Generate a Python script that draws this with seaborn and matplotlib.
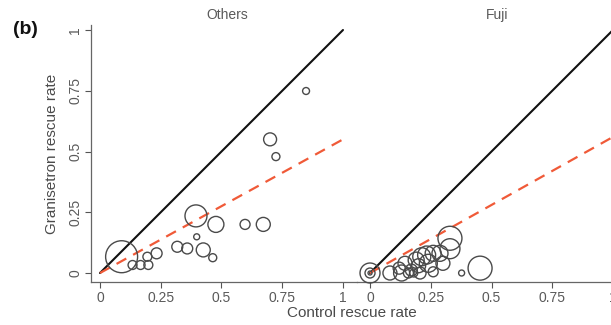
import numpy as np
import pandas as pd
import matplotlib
matplotlib.use("Agg")
import matplotlib.pyplot as plt
import matplotlib.transforms as mtransforms
import seaborn as sns

# Rescue rates per centre: control arm (x) vs granisetron arm (y), circle area ~ weight
others_control = [0.089, 0.134, 0.167, 0.199, 0.195, 0.233, 0.318, 0.359, 0.398,
                  0.425, 0.464, 0.395, 0.477, 0.597, 0.672, 0.848, 0.700, 0.724]
others_granisetron = [0.067, 0.033, 0.033, 0.033, 0.067, 0.081, 0.108, 0.101, 0.149,
                      0.095, 0.063, 0.235, 0.200, 0.200, 0.200, 0.749, 0.550, 0.479]
others_weight = [256, 20, 20, 20, 20, 30, 30, 30, 9,
                 49, 16, 121, 64, 25, 49, 12, 42, 16]

fuji_control = [0.0, 0.0, 0.0, 0.082, 0.130, 0.144, 0.158, 0.170, 0.180, 0.190,
                0.206, 0.213, 0.233, 0.260, 0.260, 0.288, 0.329, 0.329, 0.377,
                0.453, 0.200, 0.240, 0.120, 0.300]
fuji_granisetron = [0.0, 0.0, 0.0, 0.0, 0.0, 0.040, 0.0, 0.012, 0.0, 0.053,
                    0.0, 0.067, 0.074, 0.081, 0.005, 0.081, 0.143, 0.100, 0.0,
                    0.020, 0.030, 0.040, 0.020, 0.040]
fuji_weight = [100, 25, 4, 49, 64, 49, 25, 36, 16, 64,
               36, 81, 81, 64, 25, 64, 144, 100, 9,
               144, 49, 81, 36, 49]

panels = ["Others", "Fuji"]
fitted_slope = {"Others": 0.55, "Fuji": 0.56}
tick_values = [0, 0.25, 0.5, 0.75, 1]
tick_labels = ["0", "0.25", "0.5", "0.75", "1"]

df = pd.concat([
    pd.DataFrame({"panel": "Others", "control": others_control,
                  "granisetron": others_granisetron, "weight": others_weight}),
    pd.DataFrame({"panel": "Fuji", "control": fuji_control,
                  "granisetron": fuji_granisetron, "weight": fuji_weight}),
], ignore_index=True)

sns.set_theme(style="white")
plt.rcParams["font.family"] = ["Liberation Sans", "DejaVu Sans"]

W, H = 611, 325
fig = plt.figure(figsize=(W / 100, H / 100), dpi=100)

label_grey = "#4a4a4a"
tick_grey = "#5a5a5a"

# axes rectangles (pixels): left panel 91..356.5, right panel 356.5..626.5, y 25..282
bottom = (H - 282) / H
height = (282 - 25) / H
ax_left = fig.add_axes([91 / W, bottom, 265.5 / W, height])
ax_right = fig.add_axes([356.5 / W, bottom, 270 / W, height])
ax_right.patch.set_alpha(0)

limits = {"Others": (-0.037, 1.0556), "Fuji": (-0.0556, 1.0556)}
wmax = max(others_weight + fuji_weight)
k = 2.07  # marker area (pt^2) per weight unit

for ax, name in zip([ax_left, ax_right], panels):
    sub = df[df["panel"] == name]
    sns.scatterplot(data=sub, x="control", y="granisetron", size="weight",
                    sizes=(0, k * wmax), size_norm=(0, wmax), legend=False,
                    facecolors="none", edgecolor="#4a4a4a", linewidth=1.0,
                    clip_on=False, zorder=3, ax=ax)
    ref = np.array([0.0, 1.0])
    ax.plot(ref, ref, color="#111111", lw=1.5, zorder=2)
    ax.plot(ref, fitted_slope[name] * ref, color="#f05a38", lw=1.6,
            dashes=(5, 3.5), zorder=2)

    ax.set_xlim(*limits[name])
    ax.set_ylim(-0.037, 1.0206)
    ax.set_xticks(tick_values)
    ax.set_xticklabels(tick_labels)
    ax.set_xlabel("")
    ax.set_ylabel("")
    ax.tick_params(axis="x", bottom=True, length=4.3, width=0.8, color="#555555",
                   pad=2, labelsize=10, labelcolor=tick_grey)
    for s in ["top", "right"]:
        ax.spines[s].set_visible(False)
    ax.spines["bottom"].set_color("#666666")
    ax.spines["bottom"].set_linewidth(0.9)

    trans = mtransforms.blended_transform_factory(ax.transData, fig.transFigure)
    ax.text(0.525, (H - 15) / H, name, transform=trans, ha="center", va="center",
            fontsize=10, color=tick_grey)

ax_left.set_yticks(tick_values)
ax_left.set_yticklabels(tick_labels, rotation=90, va="center")
ax_left.tick_params(axis="y", left=True, length=4.3, width=0.8, color="#555555",
                    pad=2, labelsize=10, labelcolor=tick_grey)
ax_left.spines["left"].set_color("#666666")
ax_left.spines["left"].set_linewidth(0.9)

ax_right.spines["left"].set_visible(False)
ax_right.set_yticks([])

fig.text(352 / W, (H - 313) / H, "Control rescue rate", ha="center", va="center",
         fontsize=11, color=label_grey)
fig.text(52 / W, (H - 154) / H, "Granisetron rescue rate", ha="center", va="center",
         rotation=90, fontsize=11, color=label_grey)
fig.text(25 / W, (H - 29) / H, "(b)", ha="center", va="center", fontsize=14,
         fontweight="bold", color="#111111")

fig.savefig("out.png", dpi=100)
